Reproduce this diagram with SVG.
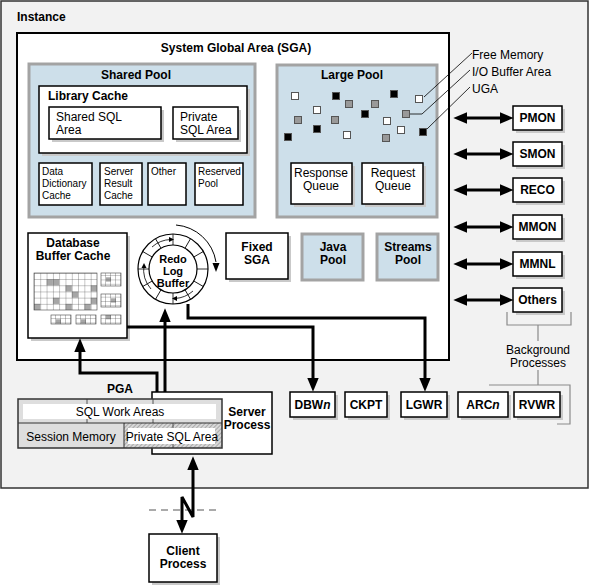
<svg xmlns="http://www.w3.org/2000/svg" width="593" height="587" viewBox="0 0 593 587">
<style>
text{font-family:"Liberation Sans",Arial,sans-serif;fill:#000}
.b{font-weight:bold;font-size:12px}
.r{font-weight:bold;font-size:11px}
.n{font-size:12px}
.c{font-size:10px}
.mid{text-anchor:middle}
.box{fill:#fff;stroke:#000;stroke-width:1.5}
.sh{fill:#c9c9c9}
.pool{fill:#cddfea;stroke:#a3a3a3;stroke-width:3}
.con{fill:none;stroke:#000;stroke-width:3}
.thin{fill:none;stroke:#000;stroke-width:0.8}
.gl{fill:none;stroke:#8a8a8a;stroke-width:1.2}
.sqw{stroke:#555;stroke-width:1}
.gc{fill:#a6a6a6}
</style>
<defs>
<marker id="ah" markerUnits="userSpaceOnUse" markerWidth="14" markerHeight="12" viewBox="0 0 12 10" refX="2" refY="5" orient="auto-start-reverse">
<path d="M0,0 L12,5 L0,10 z" fill="#000"/>
</marker>
<pattern id="hatch" patternUnits="userSpaceOnUse" width="3" height="3" patternTransform="rotate(45)">
<rect width="3" height="3" fill="#d8d8d8"/>
<line x1="0" y1="0" x2="0" y2="3" stroke="#8a8a8a" stroke-width="1.2"/>
</pattern>
<pattern id="bgrid" patternUnits="userSpaceOnUse" x="34" y="273" width="6.3" height="6.17">
<path d="M0,0 H6.3 M0,0 V6.17" stroke="#444" stroke-width="0.6" fill="none"/>
</pattern>
<pattern id="sgrid" patternUnits="userSpaceOnUse" width="5" height="4.3">
<path d="M0,0 H5 M0,0 V4.3" stroke="#444" stroke-width="0.6" fill="none"/>
</pattern>
</defs>

<g id="instance">
<rect x="1" y="1" width="587" height="487" fill="#f2f2f2" stroke="#333" stroke-width="1.5"/>
<text x="17" y="21" class="b">Instance</text>
</g>

<g id="sga">
<rect x="17" y="33" width="432" height="327" fill="#fff" stroke="#000" stroke-width="2"/>
<text x="236" y="52" class="b mid">System Global Area (SGA)</text>
</g>

<g id="shared-pool">
<rect x="29" y="64" width="226" height="153" class="pool"/>
<text x="136" y="79" class="b mid">Shared Pool</text>
</g>
<g id="library-cache">
<rect x="42" y="89" width="208" height="67" class="sh"/>
<rect x="39" y="86" width="208" height="67" class="box"/>
<text x="48" y="100" class="b">Library Cache</text>
</g>
<g id="shared-sql-area">
<rect x="52" y="110" width="112" height="32" class="sh"/>
<rect x="49" y="107" width="112" height="32" class="box"/>
<text x="56" y="121" class="n">Shared SQL</text>
<text x="56" y="134" class="n">Area</text>
</g>
<g id="private-sql-area-sga">
<rect x="176" y="110" width="65" height="32" class="sh"/>
<rect x="173" y="107" width="65" height="32" class="box"/>
<text x="180" y="121" class="n">Private</text>
<text x="180" y="134" class="n">SQL Area</text>
</g>
<g id="data-dictionary-cache">
<rect x="39" y="163" width="53" height="42" class="box"/>
<text x="42" y="175" class="c">Data</text>
<text x="42" y="187" class="c">Dictionary</text>
<text x="42" y="199" class="c">Cache</text>
</g>
<g id="server-result-cache">
<rect x="100" y="163" width="42" height="42" class="box"/>
<text x="104" y="175" class="c">Server</text>
<text x="104" y="187" class="c">Result</text>
<text x="104" y="199" class="c">Cache</text>
</g>
<g id="other">
<rect x="148" y="163" width="38" height="42" class="box"/>
<text x="151" y="175" class="c">Other</text>
</g>
<g id="reserved-pool">
<rect x="195" y="163" width="48" height="42" class="box"/>
<text x="198" y="175" class="c">Reserved</text>
<text x="198" y="187" class="c">Pool</text>
</g>

<g id="large-pool">
<rect x="277" y="65" width="160" height="152" class="pool"/>
<text x="352" y="79" class="b mid">Large Pool</text>
<g class="sqw">
<rect x="291.5" y="92.5" width="7" height="7" fill="#fff"/>
<rect x="332.5" y="92.5" width="7" height="7" fill="#000"/>
<rect x="345.5" y="100.5" width="7" height="7" fill="#999"/>
<rect x="371.5" y="100.5" width="7" height="7" fill="#999"/>
<rect x="390.5" y="90.5" width="7" height="7" fill="#000"/>
<rect x="415.5" y="95.5" width="7" height="7" fill="#fff"/>
<rect x="313.5" y="106.5" width="7" height="7" fill="#fff"/>
<rect x="361.5" y="110.5" width="7" height="7" fill="#000"/>
<rect x="402.5" y="110.5" width="7" height="7" fill="#999"/>
<rect x="294.5" y="116.5" width="7" height="7" fill="#999"/>
<rect x="331.5" y="116.5" width="7" height="7" fill="#999"/>
<rect x="383.5" y="117.5" width="7" height="7" fill="#fff"/>
<rect x="313.5" y="125.5" width="7" height="7" fill="#000"/>
<rect x="397.5" y="126.5" width="7" height="7" fill="#fff"/>
<rect x="419.5" y="128.5" width="7" height="7" fill="#000"/>
<rect x="284.5" y="133.5" width="7" height="7" fill="#000"/>
<rect x="343.5" y="131.5" width="7" height="7" fill="#fff"/>
<rect x="382.5" y="134.5" width="7" height="7" fill="#999"/>
</g>
</g>
<g id="response-queue">
<rect x="294" y="166" width="61" height="41" class="sh"/>
<rect x="291" y="163" width="61" height="41" class="box"/>
<text x="321" y="177" class="n mid">Response</text>
<text x="321" y="190" class="n mid">Queue</text>
</g>
<g id="request-queue">
<rect x="365" y="166" width="61" height="41" class="sh"/>
<rect x="362" y="163" width="61" height="41" class="box"/>
<text x="393" y="177" class="n mid">Request</text>
<text x="393" y="190" class="n mid">Queue</text>
</g>

<g id="large-pool-legend">
<path d="M424,97 L472,53" class="thin"/>
<path d="M410,114 H422 L470,70" class="thin"/>
<path d="M427,129 L470,87" class="thin"/>
<text x="472" y="59" class="n">Free Memory</text>
<text x="472" y="76" class="n">I/O Buffer Area</text>
<text x="472" y="93" class="n">UGA</text>
</g>

<g id="database-buffer-cache">
<rect x="31" y="236" width="99" height="105" class="sh"/>
<rect x="28" y="233" width="99" height="105" class="box"/>
<text x="73" y="247" class="b mid">Database</text>
<text x="73" y="260" class="b mid">Buffer Cache</text>
<g class="gc">
<rect x="46.6" y="279.2" width="6.3" height="6.2"/><rect x="52.9" y="279.2" width="6.3" height="6.2"/>
<rect x="65.5" y="285.3" width="6.3" height="6.2"/><rect x="71.8" y="291.5" width="6.3" height="6.2"/>
<rect x="90.7" y="285.3" width="6.3" height="6.2"/><rect x="90.7" y="297.7" width="6.3" height="6.2"/>
<rect x="52.9" y="297.7" width="6.3" height="6.2"/><rect x="34" y="303.8" width="6.3" height="6.2"/>
<rect x="65.5" y="303.8" width="6.3" height="6.2"/><rect x="84.4" y="303.8" width="6.3" height="6.2"/>
<rect x="106" y="277.3" width="5" height="4.3"/><rect x="111" y="298.3" width="5" height="4.3"/>
<rect x="56" y="319.3" width="5" height="4.3"/><rect x="81" y="319.3" width="5" height="4.3"/>
<rect x="106" y="315" width="5" height="4.3"/>
</g>
<rect x="34" y="273" width="63" height="37" fill="url(#bgrid)" stroke="#444" stroke-width="0.6"/>
<rect x="101" y="273" width="20" height="13" fill="url(#sgrid)" stroke="#444" stroke-width="0.6"/>
<rect x="101" y="294" width="20" height="13" fill="url(#sgrid)" stroke="#444" stroke-width="0.6"/>
<rect x="51" y="315" width="20" height="9" fill="url(#sgrid)" stroke="#444" stroke-width="0.6"/>
<rect x="76" y="315" width="20" height="9" fill="url(#sgrid)" stroke="#444" stroke-width="0.6"/>
<rect x="101" y="315" width="20" height="9" fill="url(#sgrid)" stroke="#444" stroke-width="0.6"/>
</g>

<g id="redo-log-buffer">
<circle cx="173" cy="269" r="35" fill="#fff" stroke="#000" stroke-width="1.2"/>
<circle cx="173" cy="269" r="24" fill="#fff" stroke="#000" stroke-width="1.2"/>
<g stroke="#000" stroke-width="0.8" transform="translate(173,269)">
<line x1="24" y1="0" x2="35" y2="0"/>
<line x1="24" y1="0" x2="35" y2="0" transform="rotate(30)"/>
<line x1="24" y1="0" x2="35" y2="0" transform="rotate(60)"/>
<line x1="24" y1="0" x2="35" y2="0" transform="rotate(90)"/>
<line x1="24" y1="0" x2="35" y2="0" transform="rotate(120)"/>
<line x1="24" y1="0" x2="35" y2="0" transform="rotate(150)"/>
<line x1="24" y1="0" x2="35" y2="0" transform="rotate(180)"/>
<line x1="24" y1="0" x2="35" y2="0" transform="rotate(210)"/>
<line x1="24" y1="0" x2="35" y2="0" transform="rotate(240)"/>
<line x1="24" y1="0" x2="35" y2="0" transform="rotate(270)"/>
<line x1="24" y1="0" x2="35" y2="0" transform="rotate(300)"/>
<line x1="24" y1="0" x2="35" y2="0" transform="rotate(330)"/>
</g>
<g fill="none" stroke="#000" stroke-width="0.8">
<path d="M151,289 A29.5,29.5 0 0 1 144,265"/>
<path d="M152,247 A29.5,29.5 0 0 1 171,239.5"/>
<path d="M193,291 A29.5,29.5 0 0 1 175,298.5"/>
</g>
<g fill="#000">
<path d="M144,263 L141.5,268 L146.5,268 z"/>
<path d="M174,239.5 L169,237 L169,242 z"/>
<path d="M172,298.5 L177,296 L177,301 z"/>
</g>
<text x="173" y="263" class="r mid">Redo</text>
<text x="173" y="275" class="r mid">Log</text>
<text x="173" y="287" class="r mid">Buffer</text>
<path d="M176,225 A44,44 0 0 1 216,262" fill="none" stroke="#000" stroke-width="1"/>
<path d="M216,272 L212.5,263 L219.5,263 z" fill="#000"/>
</g>

<g id="fixed-sga">
<rect x="229" y="236" width="62" height="46" class="sh"/>
<rect x="226" y="233" width="62" height="46" class="box"/>
<text x="257" y="251" class="b mid">Fixed</text>
<text x="257" y="264" class="b mid">SGA</text>
</g>
<g id="java-pool">
<rect x="302" y="234" width="61" height="46" class="pool" stroke-width="2.5"/>
<text x="333" y="251" class="b mid">Java</text>
<text x="333" y="264" class="b mid">Pool</text>
</g>
<g id="streams-pool">
<rect x="377" y="234" width="61" height="46" class="pool" stroke-width="2.5"/>
<text x="408" y="251" class="b mid">Streams</text>
<text x="408" y="264" class="b mid">Pool</text>
</g>

<g id="pmon"><rect x="516" y="109" width="49" height="24" class="sh"/><rect x="513" y="106" width="49" height="24" class="box"/><text x="537.5" y="122" class="b mid">PMON</text></g>
<g id="smon"><rect x="516" y="145" width="49" height="24" class="sh"/><rect x="513" y="142" width="49" height="24" class="box"/><text x="537.5" y="158" class="b mid">SMON</text></g>
<g id="reco"><rect x="516" y="181" width="49" height="24" class="sh"/><rect x="513" y="178" width="49" height="24" class="box"/><text x="537.5" y="194" class="b mid">RECO</text></g>
<g id="mmon"><rect x="516" y="218" width="49" height="24" class="sh"/><rect x="513" y="215" width="49" height="24" class="box"/><text x="537.5" y="231" class="b mid">MMON</text></g>
<g id="mmnl"><rect x="516" y="255" width="49" height="24" class="sh"/><rect x="513" y="252" width="49" height="24" class="box"/><text x="537.5" y="268" class="b mid">MMNL</text></g>
<g id="others"><rect x="516" y="291" width="49" height="24" class="sh"/><rect x="513" y="288" width="49" height="24" class="box"/><text x="537.5" y="304" class="b mid">Others</text></g>

<g id="background-processes">
<path d="M507,312 V325 H571 V312 M538,325 V341" class="gl"/>
<path d="M489,385 H570 V424 H557 M538,385 V370" class="gl"/>
<text x="538" y="354" class="n mid">Background</text>
<text x="538" y="367" class="n mid">Processes</text>
</g>

<g id="dbwn"><rect x="293" y="395" width="45" height="25" class="sh"/><rect x="290" y="392" width="45" height="25" class="box"/><text x="312.5" y="409" class="b mid">DBW<tspan font-style="italic">n</tspan></text></g>
<g id="ckpt"><rect x="348" y="395" width="42" height="25" class="sh"/><rect x="345" y="392" width="42" height="25" class="box"/><text x="366" y="409" class="b mid">CKPT</text></g>
<g id="lgwr"><rect x="404" y="395" width="46" height="25" class="sh"/><rect x="401" y="392" width="46" height="25" class="box"/><text x="424" y="409" class="b mid">LGWR</text></g>
<g id="arcn"><rect x="461" y="395" width="50" height="25" class="sh"/><rect x="458" y="392" width="50" height="25" class="box"/><text x="483" y="409" class="b mid">ARC<tspan font-style="italic">n</tspan></text></g>
<g id="rvwr"><rect x="517" y="395" width="46" height="25" class="sh"/><rect x="514" y="392" width="46" height="25" class="box"/><text x="537" y="409" class="b mid">RVWR</text></g>

<g id="server-process">
<rect x="152" y="392" width="120" height="62" class="box"/>
<text x="247" y="416" class="b mid">Server</text>
<text x="247" y="429" class="b mid">Process</text>
</g>

<g id="pga">
<text x="120" y="393" class="b mid">PGA</text>
<rect x="18" y="399" width="204" height="24" fill="#dedede"/>
<rect x="18" y="423" width="106" height="25" fill="#dedede"/>
<rect x="124" y="423" width="98" height="25" fill="url(#hatch)"/>
<line x1="87" y1="399" x2="87" y2="423" stroke="#333" stroke-width="0.8"/>
<line x1="153" y1="399" x2="153" y2="423" stroke="#333" stroke-width="0.8"/>
<line x1="173" y1="423" x2="173" y2="448" stroke="#333" stroke-width="0.8"/>
<rect x="23" y="404" width="193" height="15" fill="#fff"/>
<rect x="128" y="428" width="87" height="16" fill="#fff"/>
<line x1="18" y1="423" x2="222" y2="423" stroke="#333" stroke-width="1"/>
<line x1="124" y1="423" x2="124" y2="448" stroke="#333" stroke-width="1"/>
<rect x="18" y="399" width="204" height="49" fill="none" stroke="#333" stroke-width="1.5"/>
<text x="120" y="416" class="n mid">SQL Work Areas</text>
<text x="71" y="441" class="n mid">Session Memory</text>
<text x="172" y="441" class="n mid" font-size="11px">Private SQL Area</text>
</g>

<g id="client-process">
<line x1="149" y1="510" x2="216" y2="510" stroke="#aaa" stroke-width="2" stroke-dasharray="7,5"/>
<rect x="152" y="537" width="68" height="48" class="sh"/>
<rect x="149" y="534" width="68" height="48" class="box"/>
<text x="183" y="555" class="b mid">Client</text>
<text x="183" y="568" class="b mid">Process</text>
</g>

<g id="connectors">
<path d="M127,327 H313 V380" class="con" marker-end="url(#ah)"/>
<path d="M188,304 V318 H425 V380" class="con" marker-end="url(#ah)"/>
<path d="M165,392 V320" class="con" marker-end="url(#ah)"/>
<path d="M157,392 V373 H80 V350" class="con" marker-end="url(#ah)"/>
<path d="M465,118 H502" class="con" marker-start="url(#ah)" marker-end="url(#ah)"/>
<path d="M465,154 H502" class="con" marker-start="url(#ah)" marker-end="url(#ah)"/>
<path d="M465,190 H502" class="con" marker-start="url(#ah)" marker-end="url(#ah)"/>
<path d="M465,227 H502" class="con" marker-start="url(#ah)" marker-end="url(#ah)"/>
<path d="M465,264 H502" class="con" marker-start="url(#ah)" marker-end="url(#ah)"/>
<path d="M465,300 H502" class="con" marker-start="url(#ah)" marker-end="url(#ah)"/>
<path d="M193,468 V517 L182,497 V522" class="con" stroke-linejoin="miter" marker-start="url(#ah)" marker-end="url(#ah)"/>
</g>
</svg>
